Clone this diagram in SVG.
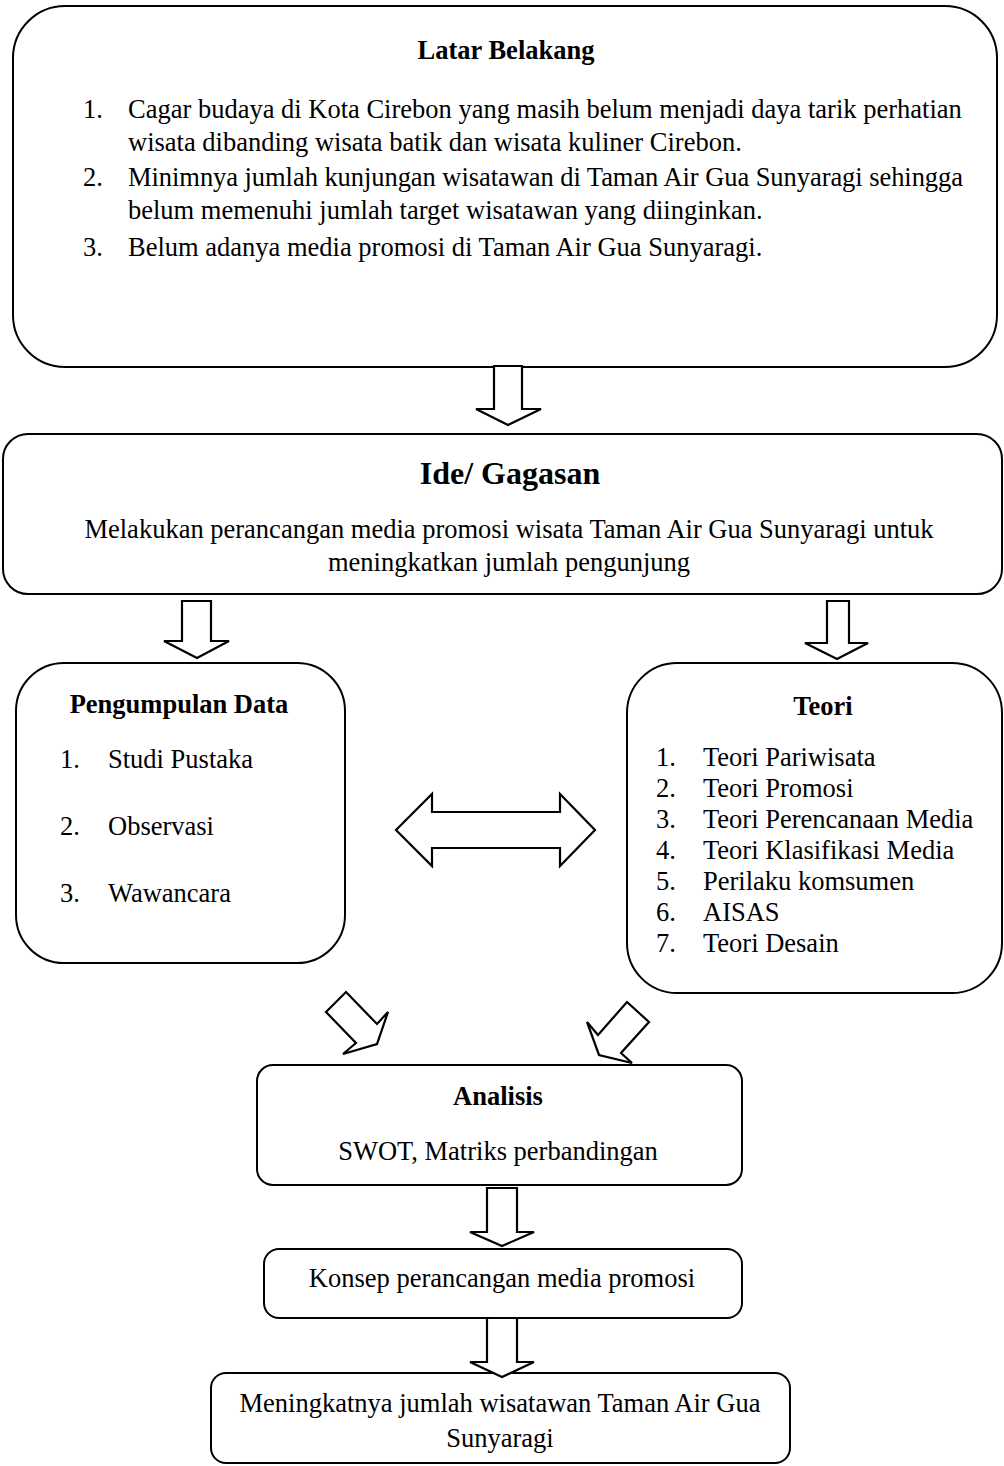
<svg xmlns="http://www.w3.org/2000/svg" width="1004" height="1466" viewBox="0 0 1004 1466">
<style>
.box{fill:#fff;stroke:#000;stroke-width:2}
.arr{fill:#fff;stroke:#000;stroke-width:2.2;stroke-linejoin:miter}
text{font-family:"Liberation Serif","Times New Roman",serif;font-size:26.5px;fill:#000}
.b{font-weight:bold}
.c{text-anchor:middle}
.big{font-size:32px}
</style>
<rect width="1004" height="1466" fill="#fff"/>
<g id="latar">
<rect class="box" x="13" y="6" width="984" height="361" rx="52" ry="52"/>
<text class="b c" x="506" y="59">Latar Belakang</text>
<text x="83" y="118">1.</text>
<text x="128" y="118">Cagar budaya di Kota Cirebon yang masih belum menjadi daya tarik perhatian</text>
<text x="128" y="151">wisata dibanding wisata batik dan wisata kuliner Cirebon.</text>
<text x="83" y="186">2.</text>
<text x="128" y="186" textLength="835" lengthAdjust="spacing">Minimnya jumlah kunjungan wisatawan di Taman Air Gua Sunyaragi sehingga</text>
<text x="128" y="219">belum memenuhi jumlah target wisatawan yang diinginkan.</text>
<text x="83" y="256">3.</text>
<text x="128" y="256">Belum adanya media promosi di Taman Air Gua Sunyaragi.</text>
</g>
<g id="ide">
<rect class="box" x="3" y="434" width="999" height="160" rx="25" ry="25"/>
<text class="b c big" x="510" y="484">Ide/ Gagasan</text>
<text class="c" x="509" y="538">Melakukan perancangan media promosi wisata Taman Air Gua Sunyaragi untuk</text>
<text class="c" x="509" y="571">meningkatkan jumlah pengunjung</text>
</g>
<g id="pengumpulan">
<rect class="box" x="16" y="663" width="329" height="300" rx="48" ry="48"/>
<text class="b c" x="179" y="713">Pengumpulan Data</text>
<text x="60" y="768">1.</text><text x="108" y="768">Studi Pustaka</text>
<text x="60" y="835">2.</text><text x="108" y="835">Observasi</text>
<text x="60" y="902">3.</text><text x="108" y="902">Wawancara</text>
</g>
<g id="teori">
<rect class="box" x="627" y="663" width="375" height="330" rx="50" ry="50"/>
<text class="b c" x="823" y="715">Teori</text>
<text x="656" y="766">1.</text><text x="703" y="766">Teori Pariwisata</text>
<text x="656" y="797">2.</text><text x="703" y="797">Teori Promosi</text>
<text x="656" y="828">3.</text><text x="703" y="828">Teori Perencanaan Media</text>
<text x="656" y="859">4.</text><text x="703" y="859">Teori Klasifikasi Media</text>
<text x="656" y="890">5.</text><text x="703" y="890">Perilaku komsumen</text>
<text x="656" y="921">6.</text><text x="703" y="921">AISAS</text>
<text x="656" y="952">7.</text><text x="703" y="952">Teori Desain</text>
</g>
<g id="analisis">
<rect class="box" x="257" y="1065" width="485" height="120" rx="16" ry="16"/>
<text class="b c" x="498" y="1105">Analisis</text>
<text class="c" x="498" y="1160">SWOT, Matriks perbandingan</text>
</g>
<g id="konsep">
<rect class="box" x="264" y="1249" width="478" height="69" rx="15" ry="15"/>
<text class="c" x="502" y="1287">Konsep perancangan media promosi</text>
</g>
<g id="hasil">
<rect class="box" x="211" y="1373" width="579" height="90" rx="15" ry="15"/>
<text class="c" x="500" y="1412">Meningkatnya jumlah wisatawan Taman Air Gua</text>
<text class="c" x="500" y="1447">Sunyaragi</text>
</g>
<g id="connectors">
<polygon class="arr" points="494,366 522,366 522,409 541,409 508,425 476,409 494,409"/>
<polygon class="arr" points="182,601 211,601 211,641 229,641 197,658 164,641 182,641"/>
<polygon class="arr" points="827,601 849,601 849,643 868,643 837,659 805,643 827,643"/>
<polygon class="arr" points="396,830 432,794 432,812 560,812 560,794 595,830 560,866 560,848 432,848 432,866"/>
<polygon class="arr" points="346,992 377,1024 388,1012 377,1044 343,1054 356,1043 326,1012"/>
<polygon class="arr" points="627,1002 649,1022 621,1053 632,1063 599,1055 587,1022 598,1035"/>
<polygon class="arr" points="487,1188 517,1188 517,1232 534,1232 502,1246 470,1232 487,1232"/>
<polygon class="arr" points="487,1318 517,1318 517,1362 534,1362 502,1377 470,1362 487,1362"/>
</g>
</svg>
